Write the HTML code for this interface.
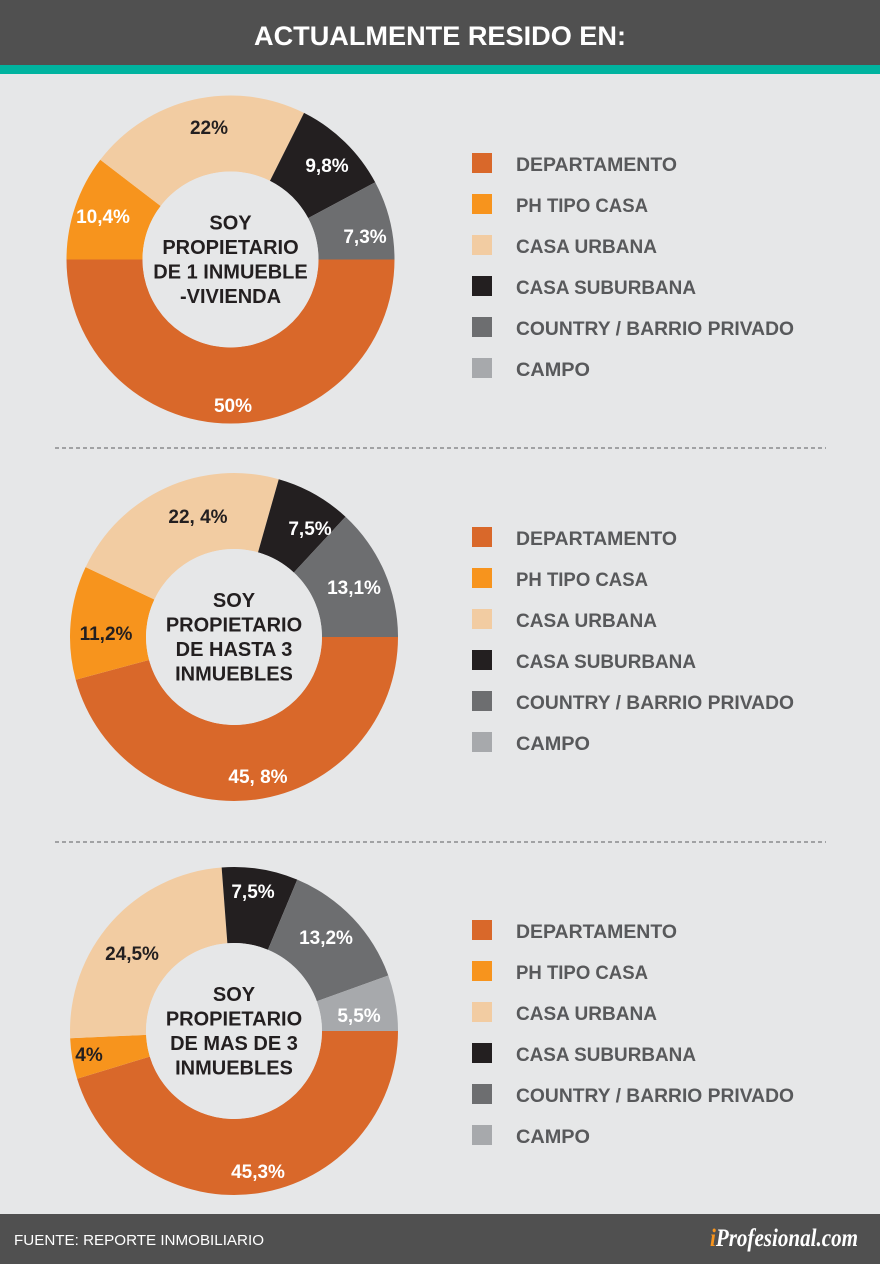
<!DOCTYPE html>
<html><head><meta charset="utf-8"><style>
html,body{margin:0;padding:0;background:#e6e7e8}
svg{display:block}
text{font-family:"Liberation Sans",sans-serif;font-weight:bold}
</style></head><body>
<svg id="s" width="880" height="1264" viewBox="0 0 880 1264">
<rect width="880" height="1264" fill="#e6e7e8"/>
<rect width="880" height="65" fill="#505050"/>
<rect y="65" width="880" height="9" fill="#00b39f"/>
<text x="440" y="45" text-anchor="middle" font-size="27" fill="#fff" textLength="372" lengthAdjust="spacingAndGlyphs">ACTUALMENTE RESIDO EN:</text>
<line x1="55" y1="448" x2="826" y2="448" stroke="#8a8b8d" stroke-width="1.5" stroke-dasharray="4,3"/>
<line x1="55" y1="842" x2="826" y2="842" stroke="#8a8b8d" stroke-width="1.5" stroke-dasharray="4,3"/>
<g id="charts"></g>
<rect y="1214" width="880" height="50" fill="#505050"/>
<text x="14" y="1245" font-size="15" fill="#fff" style="font-weight:normal" textLength="250" lengthAdjust="spacingAndGlyphs">FUENTE: REPORTE INMOBILIARIO</text>
<text x="858" y="1246" text-anchor="end" font-size="25" fill="#fff" style="font-family:'Liberation Serif',serif;font-style:italic" textLength="148" lengthAdjust="spacingAndGlyphs"><tspan fill="#f7941d">i</tspan>Profesional.com</text>
</svg>
<script>
var C=["#d9682a","#f7941d","#f2cca2","#231f20","#6d6e70","#a7a9ac"];
var names=["DEPARTAMENTO","PH TIPO CASA","CASA URBANA","CASA SUBURBANA","COUNTRY / BARRIO PRIVADO","CAMPO"];
var nl=[161,132,141,180,278,74];
var charts=[
 {cx:230.5,cy:259.5,v:[50,10.4,22,9.8,7.8,0],title:["SOY","PROPIETARIO","DE 1 INMUEBLE","-VIVIENDA"],ly:164,
  labels:[["50%",233,412,"#fff"],["10,4%",103,223,"#fff"],["22%",209,134,"#231f20"],["9,8%",327,172,"#fff"],["7,3%",365,243,"#fff"]]},
 {cx:234,cy:637,v:[45.8,11.2,22.4,7.5,13.1,0],title:["SOY","PROPIETARIO","DE HASTA 3","INMUEBLES"],ly:538,
  labels:[["45, 8%",258,783,"#fff"],["11,2%",106,640,"#231f20"],["22, 4%",198,523,"#231f20"],["7,5%",310,535,"#fff"],["13,1%",354,594,"#fff"]]},
 {cx:234,cy:1031,v:[45.3,4,24.5,7.5,13.2,5.5],title:["SOY","PROPIETARIO","DE MAS DE 3","INMUEBLES"],ly:931,
  labels:[["45,3%",258,1178,"#fff"],["4%",89,1061,"#231f20"],["24,5%",132,960,"#231f20"],["7,5%",253,898,"#fff"],["13,2%",326,944,"#fff"],["5,5%",359,1022,"#fff"]]}
];
var R=164,r=88,h="";
function pt(cx,cy,rad,a){return (cx+rad*Math.cos(a)).toFixed(2)+" "+(cy+rad*Math.sin(a)).toFixed(2);}
charts.forEach(function(c){
 var tot=c.v.reduce(function(a,b){return a+b},0),a=0;
 c.v.forEach(function(v,i){ if(v<=0)return;
  var a2=a+v/tot*2*Math.PI,lg=(a2-a)>Math.PI?1:0;
  h+='<path d="M'+pt(c.cx,c.cy,R,a)+' A'+R+' '+R+' 0 '+lg+' 1 '+pt(c.cx,c.cy,R,a2)+' L'+pt(c.cx,c.cy,r,a2)+' A'+r+' '+r+' 0 '+lg+' 0 '+pt(c.cx,c.cy,r,a)+'Z" fill="'+C[i]+'"/>';
  a=a2;});
 h+='<circle cx="'+c.cx+'" cy="'+c.cy+'" r="'+r+'" fill="#e6e7e8"/>';
 c.title.forEach(function(t,k){h+='<text x="'+c.cx+'" y="'+(c.cy-30+k*24.5)+'" text-anchor="middle" font-size="20" fill="#231f20">'+t+'</text>';});
 c.labels.forEach(function(l){h+='<text x="'+l[1]+'" y="'+l[2]+'" text-anchor="middle" font-size="19" fill="'+l[3]+'">'+l[0]+'</text>';});
 for(var i=0;i<6;i++){var y=c.ly+i*41;
  h+='<rect x="472" y="'+(y-11)+'" width="20" height="20" fill="'+C[i]+'"/>';
  h+='<text x="516" y="'+(y+7)+'" font-size="19" fill="#58595b" textLength="'+nl[i]+'" lengthAdjust="spacingAndGlyphs">'+names[i]+'</text>';}
});
document.getElementById("charts").innerHTML=h;
</script>
</body></html>
